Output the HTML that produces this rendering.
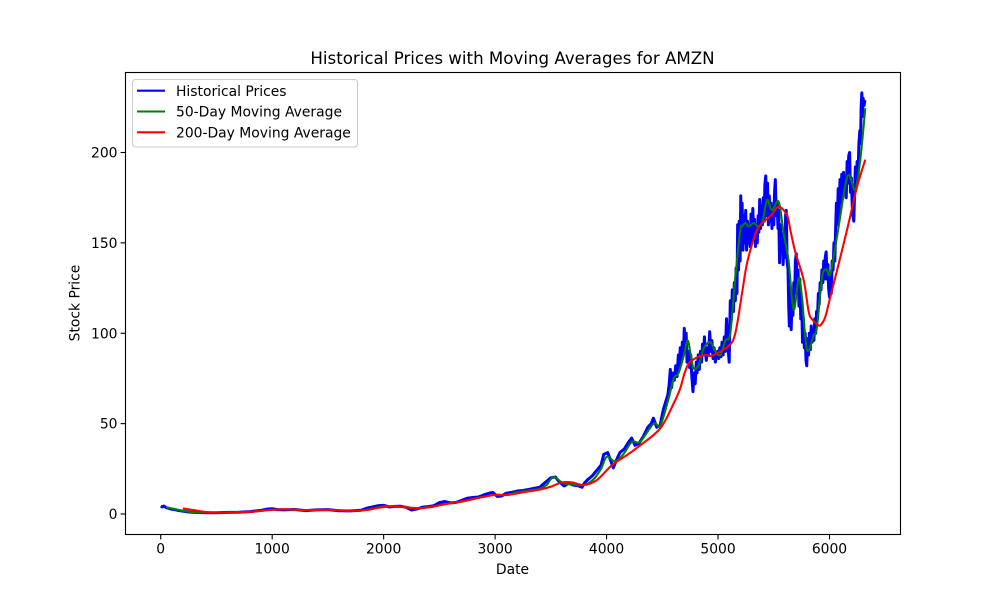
<!DOCTYPE html>
<html>
<head>
<meta charset="utf-8">
<title>Historical Prices with Moving Averages for AMZN</title>
<style>
html,body{margin:0;padding:0;background:#fff;}
#wrap{width:1000px;height:600px;overflow:hidden;}
svg{display:block;font-family:"DejaVu Sans","Liberation Sans",sans-serif;}
</style>
</head>
<body>
<div id="wrap">
<svg id="chart" xmlns="http://www.w3.org/2000/svg" width="1000" height="600" viewBox="0 0 1000 600">
<rect x="0" y="0" width="1000" height="600" fill="#fff"/>
<text x="512.5" y="64" font-size="16.67" text-anchor="middle" fill="#000">Historical Prices with Moving Averages for AMZN</text>
<text x="512.5" y="574" font-size="13.89" text-anchor="middle" fill="#000">Date</text>
<text x="0" y="0" transform="translate(79.5,303) rotate(-90)" font-size="13.89" text-anchor="middle" fill="#000">Stock Price</text>
<g id="ticks"></g>
<g id="series"></g>
<rect x="125.5" y="72.5" width="775" height="462" fill="none" stroke="#000" stroke-width="1.11"/>
<g>
<rect x="132.5" y="79.5" width="225" height="67.5" rx="3" ry="3" fill="#fff" fill-opacity="0.8" stroke="#ccc" stroke-width="1.11"/>
<line x1="137" x2="165" y1="90.7" y2="90.7" stroke="#0000ff" stroke-width="2.08"/>
<text x="176" y="96" font-size="13.89" fill="#000">Historical Prices</text>
<line x1="137" x2="165" y1="111.5" y2="111.5" stroke="#008000" stroke-width="2.08"/>
<text x="176" y="116.5" font-size="13.89" fill="#000">50-Day Moving Average</text>
<line x1="137" x2="165" y1="132.3" y2="132.3" stroke="#ff0000" stroke-width="2.08"/>
<text x="176" y="137.5" font-size="13.89" fill="#000">200-Day Moving Average</text>
</g>
</svg>
</div>
<script>
const xTickValues = [0, 1000, 2000, 3000, 4000, 5000, 6000];
const yTickValues = [0, 50, 100, 150, 200];

const priceDays = [0,15,30,50,75,100,130,160,200,250,300,400,500,600,700,800,900,960,1000,1050,1100,1200,1300,1400,1500,1600,1700,1800,1850,1900,1950,2000,2050,2100,2150,2200,2250,2300,2350,2400,2450,2500,2550,2600,2650,2700,2750,2800,2850,2900,2950,2980,3020,3060,3100,3150,3200,3250,3300,3350,3400,3450,3500,3540,3580,3620,3660,3700,3740,3780,3800,3830,3870,3910,3950,3975,4010,4040,4060,4090,4120,4160,4200,4225,4255,4290,4330,4370,4400,4420,4450,4480,4510,4530,4550,4562,4572,4584,4596,4608,4620,4632,4644,4652,4661,4670,4680,4690,4697,4705,4714,4722,4736,4745,4755,4765,4775,4785,4795,4805,4812,4822,4832,4842,4852,4861,4870,4878,4886,4895,4905,4915,4925,4935,4945,4955,4965,4976,4986,4996,5006,5016,5026,5036,5046,5056,5066,5076,5086,5100,5110,5120,5128,5138,5146,5155,5162,5170,5176,5184,5190,5198,5204,5210,5216,5224,5232,5240,5248,5256,5264,5272,5280,5288,5296,5304,5312,5320,5328,5336,5344,5352,5360,5366,5374,5382,5390,5398,5406,5414,5420,5428,5436,5444,5452,5460,5468,5476,5484,5492,5500,5507,5514,5522,5530,5538,5544,5552,5560,5568,5576,5584,5592,5600,5606,5612,5620,5628,5634,5640,5648,5656,5664,5672,5680,5688,5694,5702,5710,5718,5726,5734,5742,5750,5758,5766,5774,5782,5789,5796,5804,5812,5820,5828,5836,5844,5852,5860,5868,5876,5884,5892,5900,5908,5916,5924,5932,5940,5948,5956,5962,5970,5978,5986,5992,6000,6008,6016,6024,6032,6040,6048,6056,6062,6070,6078,6086,6094,6102,6110,6118,6126,6134,6142,6150,6158,6166,6172,6180,6188,6196,6204,6210,6218,6226,6232,6240,6248,6256,6264,6272,6278,6284,6290,6296,6302,6310,6318];
const prices = [4.3,3.9,4.4,3.5,3.1,2.6,2.4,1.9,1.6,1.1,0.9,0.7,0.7,0.9,1,1.3,2,2.8,2.9,2.4,2.3,2.5,1.9,2.3,2.4,1.8,1.7,2.1,3.2,3.9,4.6,4.8,3.9,4.2,4.3,3.7,2.2,2.8,3.8,4.1,4.6,6.3,6.9,6.1,6.4,7.5,8.7,9.1,9.4,10.6,11.6,11.9,9.7,10,11.5,12,12.7,13,13.6,14.2,14.8,17.5,20,20.5,17.5,15.5,17,16,15.7,14.8,17,19,21,24,27,33,34,29,25.5,30,34,36,40,42,38,39,43,48,50,53,48,49,58,62,66,72,80,70,78,74,82,76,88,80,92,85,95,88,102.7,92,100,84,90,81,88,76,67.7,78,72,84,78,88,80,90,84,94,88,98,90,85,92,88,100.8,90,96,86,92,84,88,90,86,92,87,95,88,98,90,108,95,84,118,108,124,112,128,118,136,122,160,135,162,140,176,148,172,146,165,150,168,146,162,150,158,148,166,150,169,155,163,148,160,150,165,156,174,158,170,160,175,162,182,187,165,183,160,176,162,172,158,170,160,178,185,165,172,158,168,139,160,145,155,138,150,142,165,168,140,135,115,104,125,102,118,110,128,122,140,144,125,135,115,130,108,118,95,108,92,100,85,82,97,88,100,91,104,95,102,96,108,100,112,108,122,116,128,124,135,128,140,130,142,145,130,138,125,120,132,122,140,135,150,140,160,172,160,180,165,185,172,188,175,189,178,186,175,195,183,198,200,178,186,170,165,162,180,192,185,195,188,205,212,205,225,233,220,230,226,229,230];

const ma50Days = [49,120,200,260,300,500,700,850,1000,1100,1300,1500,1700,1800,1900,2000,2100,2200,2300,2400,2500,2600,2700,2800,2900,3000,3100,3200,3300,3400,3460,3524,3613,3700,3794,3880,3950,4003,4078,4150,4228,4302,4421,4482,4557,4602,4646,4690,4727,4755,4781,4826,4871,4931,4976,5021,5066,5110,5155,5200,5215,5245,5275,5320,5365,5400,5440,5484,5544,5589,5633,5678,5723,5753,5798,5858,5888,5933,5972,6007,6067,6082,6142,6177,6231,6276,6321];
const ma50 = [3.7,2.8,1.7,1.2,1,0.7,0.9,1.5,2.4,2.6,2.1,2.2,1.8,2,3,4.3,4.1,3.9,3,3.8,4.8,6,6.8,8.3,9.5,10.6,10.6,12,13,14,16,20.4,17,16.3,16,19,25,31.7,29,33,40,40,50,49,64,75,78,87,96,88,80.6,82.4,91.7,95,90,88,96,100,131,157,159,161,159,161,159,162,173.7,168,172.8,155,140,113,130.4,120,91,99,103.6,131,135.4,132.8,153.4,159,182,187.5,179.3,196,224.5];

const ma200Days = [199,250,300,443,600,800,950,1100,1300,1500,1700,1850,1950,2104,2238,2400,2508,2597,2687,2800,2986,3106,3250,3405,3495,3600,3690,3794,3914,4048,4183,4302,4482,4601,4661,4700,4751,4871,4945,5095,5155,5215,5260,5335,5379,5410,5480,5544,5619,5649,5693,5768,5813,5840,5888,5918,5962,6007,6097,6172,6247,6321];
const ma200 = [3,2.6,2.1,0.9,0.9,1.2,2,2.6,2.2,2.3,1.8,2.2,3.4,4.4,3.4,3.6,5,5.9,6.8,8.2,10.5,10.5,12,13.6,15,17.5,17.5,16,18.8,27,32.6,38,47.4,61,69.5,78,84.3,88,87.6,93,100,122,138.7,155,160,161.7,165.5,170,165.4,157,145,129.5,112,108,105,104.4,109,120,142,161,181,196];

const plotLeft = 125.5, plotWidth = 775, domainMin = -316, domainMax = 6637;
const yZero = 514, pxPerUnit = 1.8075;
function xScale(d) { return plotLeft + plotWidth * (d - domainMin) / (domainMax - domainMin); }
function yScale(v) { return yZero - v * pxPerUnit; }

const svgNS = 'http://www.w3.org/2000/svg';
const tickGroup = document.getElementById('ticks');
const seriesGroup = document.getElementById('series');

xTickValues.forEach(function (t) {
  const px = xScale(t);
  const tick = document.createElementNS(svgNS, 'line');
  tick.setAttribute('x1', px); tick.setAttribute('x2', px);
  tick.setAttribute('y1', 534.5); tick.setAttribute('y2', 539.4);
  tick.setAttribute('stroke', '#000'); tick.setAttribute('stroke-width', '1.11');
  
  
  tickGroup.appendChild(tick);
  const label = document.createElementNS(svgNS, 'text');
  label.setAttribute('x', px); label.setAttribute('y', 553.5);
  label.setAttribute('font-size', '13.89'); label.setAttribute('text-anchor', 'middle');
  label.textContent = String(t);
  
  
  tickGroup.appendChild(label);
});

yTickValues.forEach(function (t) {
  const py = yScale(t);
  const tick = document.createElementNS(svgNS, 'line');
  tick.setAttribute('x1', 120.6); tick.setAttribute('x2', 125.5);
  tick.setAttribute('y1', py); tick.setAttribute('y2', py);
  tick.setAttribute('stroke', '#000'); tick.setAttribute('stroke-width', '1.11');
  
  
  tickGroup.appendChild(tick);
  const label = document.createElementNS(svgNS, 'text');
  label.setAttribute('x', 117.5); label.setAttribute('y', py + 5);
  label.setAttribute('font-size', '13.89'); label.setAttribute('text-anchor', 'end');
  label.textContent = String(t);
  
  
  tickGroup.appendChild(label);
});

function pathFor(days, values) {
  return days.map(function (d, i) {
    return (i ? 'L' : 'M') + xScale(d).toFixed(2) + ' ' + yScale(values[i]).toFixed(2);
  }).join('');
}

function smoothPathFor(days, values) {
  const pts = days.map(function (d, i) { return [xScale(d), yScale(values[i])]; });
  let out = 'M' + pts[0][0].toFixed(2) + ' ' + pts[0][1].toFixed(2);
  for (let i = 0; i < pts.length - 1; i++) {
    const p0 = pts[Math.max(i - 1, 0)], p1 = pts[i], p2 = pts[i + 1], p3 = pts[Math.min(i + 2, pts.length - 1)];
    const c1x = p1[0] + (p2[0] - p0[0]) / 6, c1y = p1[1] + (p2[1] - p0[1]) / 6;
    const c2x = p2[0] - (p3[0] - p1[0]) / 6, c2y = p2[1] - (p3[1] - p1[1]) / 6;
    out += 'C' + c1x.toFixed(2) + ' ' + c1y.toFixed(2) + ' ' + c2x.toFixed(2) + ' ' + c2y.toFixed(2) + ' ' + p2[0].toFixed(2) + ' ' + p2[1].toFixed(2);
  }
  return out;
}

const pricePath = document.createElementNS(svgNS, 'path');
pricePath.setAttribute('d', pathFor(priceDays, prices));
pricePath.setAttribute('fill', 'none');
pricePath.setAttribute('stroke', '#0000ff');
pricePath.setAttribute('stroke-width', '3');
pricePath.setAttribute('stroke-linejoin', 'round');


seriesGroup.appendChild(pricePath);

const ma50Path = document.createElementNS(svgNS, 'path');
ma50Path.setAttribute('d', smoothPathFor(ma50Days, ma50));
ma50Path.setAttribute('fill', 'none');
ma50Path.setAttribute('stroke', '#008000');
ma50Path.setAttribute('stroke-width', '2.08');
ma50Path.setAttribute('stroke-linejoin', 'round');


seriesGroup.appendChild(ma50Path);

const ma200Path = document.createElementNS(svgNS, 'path');
ma200Path.setAttribute('d', smoothPathFor(ma200Days, ma200));
ma200Path.setAttribute('fill', 'none');
ma200Path.setAttribute('stroke', '#ff0000');
ma200Path.setAttribute('stroke-width', '2.08');
ma200Path.setAttribute('stroke-linejoin', 'round');


seriesGroup.appendChild(ma200Path);
</script>
</body>
</html>
